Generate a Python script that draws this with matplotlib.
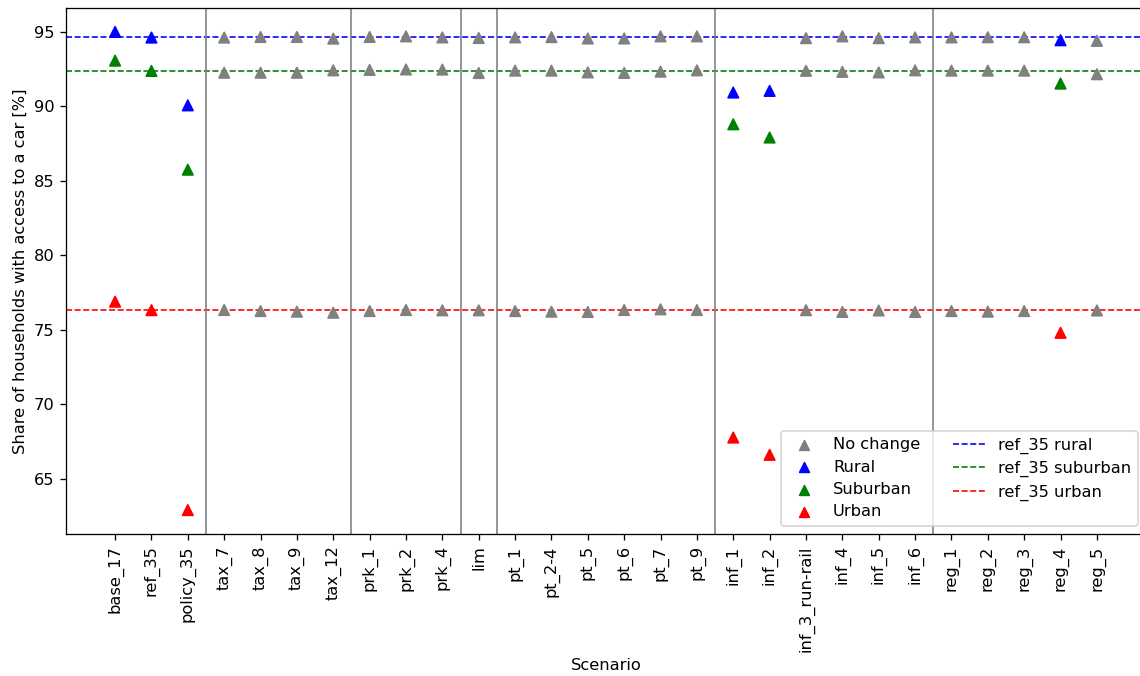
import numpy as np
import matplotlib
matplotlib.use("Agg")
import matplotlib.pyplot as plt

# scenario names
scenarios = ["base_17", "ref_35", "policy_35", "tax_7", "tax_8", "tax_9", "tax_12",
             "prk_1", "prk_2", "prk_4", "lim", "pt_1", "pt_2-4", "pt_5", "pt_6",
             "pt_7", "pt_9", "inf_1", "inf_2", "inf_3_run-rail", "inf_4", "inf_5",
             "inf_6", "reg_1", "reg_2", "reg_3", "reg_4", "reg_5"]

# share of households with access to a car [%]
rural = [95.0, 94.62, 90.07, 94.62, 94.66, 94.66, 94.55, 94.66, 94.70, 94.63,
         94.59, 94.63, 94.65, 94.56, 94.56, 94.70, 94.70, 90.93, 91.04, 94.58,
         94.70, 94.58, 94.63, 94.63, 94.64, 94.64, 94.44, 94.40]
suburban = [93.07, 92.38, 85.75, 92.26, 92.26, 92.26, 92.42, 92.45, 92.48, 92.47,
            92.24, 92.40, 92.40, 92.28, 92.25, 92.33, 92.42, 88.80, 87.91, 92.39,
            92.32, 92.28, 92.42, 92.40, 92.40, 92.40, 91.53, 92.16]
urban = [76.89, 76.32, 62.90, 76.33, 76.26, 76.22, 76.15, 76.26, 76.33, 76.31,
         76.31, 76.26, 76.22, 76.20, 76.33, 76.38, 76.33, 67.77, 66.61, 76.32,
         76.20, 76.30, 76.20, 76.26, 76.22, 76.26, 74.80, 76.30]

# scenarios that differ from the reference (coloured instead of grey)
changed = ["base_17", "ref_35", "policy_35", "inf_1", "inf_2", "reg_4"]

# reference levels (ref_35)
ref_rural = 94.65
ref_suburban = 92.4
ref_urban = 76.35

# group separators (after these scenarios)
group_ends = ["policy_35", "tax_12", "prk_4", "lim", "pt_9", "inf_6"]


DPI = 117
fig = plt.figure(figsize=(1140 / DPI, 676 / DPI), dpi=DPI)
ax = fig.add_axes([66 / 1140, 142 / 676, 1080 / 1140, 526 / 676])

x = np.arange(len(scenarios))
for values, col in [(rural, "blue"), (suburban, "green"), (urban, "red")]:
    colors = [col if s in changed else "grey" for s in scenarios]
    ax.scatter(x, values, marker="^", s=42, c=colors, zorder=3)

# empty scatters only for the legend
ax.scatter([], [], marker="^", color="grey", label="No change")
ax.scatter([], [], marker="^", color="blue", label="Rural")
ax.scatter([], [], marker="^", color="green", label="Suburban")
ax.scatter([], [], marker="^", color="red", label="Urban")

ax.axhline(ref_rural, color="blue", linestyle="--", linewidth=1, label="ref_35 rural")
ax.axhline(ref_suburban, color="green", linestyle="--", linewidth=1, label="ref_35 suburban")
ax.axhline(ref_urban, color="red", linestyle="--", linewidth=1, label="ref_35 urban")

for name in group_ends:
    ax.axvline(scenarios.index(name) + 0.5, color="grey", linewidth=1)

ax.set_xticks(x)
ax.set_xticklabels(scenarios, rotation=90)
ax.set_xlabel("Scenario")
ax.set_ylabel("Share of households with access to a car [%]")

ax.legend(ncol=2, loc="lower right", labelspacing=0.45)

fig.savefig("out.png", dpi=DPI)
